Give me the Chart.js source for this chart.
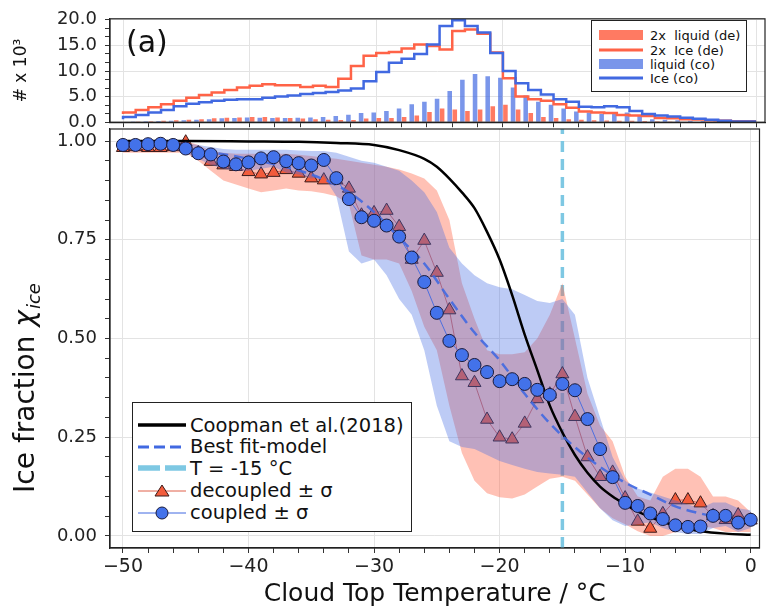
<!DOCTYPE html>
<html>
<head>
<meta charset="utf-8">
<script src="https://cdn.jsdelivr.net/npm/chart.js@4.4.1/dist/chart.umd.min.js"></script>
<style>
  body { margin: 0; background: #fff; font-family: 'DejaVu Sans', sans-serif; }
  #wrap { position: relative; width: 768px; height: 609px; overflow: hidden; }
  canvas { position: absolute; left: 0; top: 0; }
  #tag { position: absolute; left: 126px; top: 24px; font-size: 30px; color: #111; }
  .leg { position: absolute; background: #fff; border: 1.3px solid #222; box-sizing: border-box; color: #111; }
  .row { position: absolute; left: 0; display: flex; align-items: center; white-space: pre; }
  .row svg { display: block; }
</style>
</head>
<body>
<div id="wrap">
  <canvas id="mainChart" width="768" height="609"></canvas>
  <canvas id="topChart" width="768" height="141"></canvas>
  <div id="tag">(a)</div>

  <div class="leg" id="legTop" style="left:591px;top:20px;width:156px;height:72px;font-size:13px;">
    <div class="row" style="top:7px;height:14px;left:7px;">
      <svg width="44" height="12"><rect x="0" y="1" width="44" height="10" fill="rgba(255,99,71,0.85)"/></svg><span style="margin-left:7px">2x  liquid (de)</span>
    </div>
    <div class="row" style="top:22px;height:14px;left:7px;">
      <svg width="44" height="12"><line x1="0" y1="6" x2="44" y2="6" stroke="#ff6347" stroke-width="3"/></svg><span style="margin-left:7px">2x  Ice (de)</span>
    </div>
    <div class="row" style="top:36px;height:14px;left:7px;">
      <svg width="44" height="12"><rect x="0" y="1" width="44" height="10" fill="rgba(65,105,225,0.7)"/></svg><span style="margin-left:7px">liquid (co)</span>
    </div>
    <div class="row" style="top:50px;height:14px;left:7px;">
      <svg width="44" height="12"><line x1="0" y1="6" x2="44" y2="6" stroke="#4169e1" stroke-width="3"/></svg><span style="margin-left:7px">Ice (co)</span>
    </div>
  </div>

  <div class="leg" id="legMain" style="left:132px;top:402px;width:280px;height:130px;font-size:19.5px;">
    <div class="row" style="top:11px;height:22px;left:5px;">
      <svg width="48" height="20"><line x1="0" y1="10" x2="48" y2="10" stroke="#000" stroke-width="3.5"/></svg><span style="margin-left:4px">Coopman et al.(2018)</span>
    </div>
    <div class="row" style="top:32.5px;height:22px;left:5px;">
      <svg width="48" height="20"><line x1="0" y1="10" x2="48" y2="10" stroke="#4169e1" stroke-width="3" stroke-dasharray="11,5"/></svg><span style="margin-left:4px">Best fit-model</span>
    </div>
    <div class="row" style="top:54px;height:22px;left:5px;">
      <svg width="48" height="20"><line x1="0" y1="10" x2="48" y2="10" stroke="#7ec8e3" stroke-width="5.5" stroke-dasharray="22,5"/></svg><span style="margin-left:4px">T = -15 °C</span>
    </div>
    <div class="row" style="top:76.5px;height:22px;left:5px;">
      <svg width="48" height="20"><line x1="0" y1="10" x2="48" y2="10" stroke="#e0604a" stroke-width="1"/><polygon points="24,4 31,15 17,15" fill="#f25c3c" stroke="#3a1a1a" stroke-width="1"/></svg><span style="margin-left:4px">decoupled ± σ</span>
    </div>
    <div class="row" style="top:98.5px;height:22px;left:5px;">
      <svg width="48" height="20"><line x1="0" y1="10" x2="48" y2="10" stroke="#4169e1" stroke-width="1"/><circle cx="24" cy="10" r="6" fill="#4372ea" stroke="#1a1a3a" stroke-width="1"/></svg><span style="margin-left:4px">coupled ± σ</span>
    </div>
  </div>
</div>

<script>
// ---- data ----
var temps = [-50,-49,-48,-47,-46,-45,-44,-43,-42,-41,-40,-39,-38,-37,-36,-35,-34,-33,-32,-31,
             -30,-29,-28,-27,-26,-25,-24,-23,-22,-21,-20,-19,-18,-17,-16,-15,-14,-13,-12,-11,
             -10,-9,-8,-7,-6,-5,-4,-3,-2,-1,0];

// ice fraction, coupled clouds
var coupled = [0.990,0.990,0.992,0.993,0.990,0.981,0.969,0.966,0.948,0.941,
               0.946,0.956,0.959,0.949,0.944,0.938,0.952,0.906,0.853,0.807,
               0.798,0.786,0.758,0.705,0.643,0.565,0.494,0.458,0.433,0.415,
               0.392,0.397,0.385,0.370,0.357,0.385,0.369,0.296,0.220,0.149,
               0.084,0.076,0.057,0.043,0.027,0.023,0.024,0.051,0.051,0.034,0.041];
var coupledLo = [0.980,0.980,0.982,0.983,0.980,0.970,0.955,0.940,0.930,0.925,
                 0.925,0.930,0.935,0.920,0.915,0.905,0.910,0.860,0.720,0.690,
                 0.700,0.660,0.600,0.560,0.470,0.330,0.240,0.225,0.220,0.205,
                 0.190,0.180,0.170,0.162,0.158,0.155,0.150,0.110,0.070,0.040,
                 0.025,0.030,0.035,0.020,0.010,0.005,0.005,0.020,0.025,0.010,0.020];
var coupledHi = [1.000,1.000,1.000,1.000,1.000,0.995,0.990,0.985,0.980,0.978,
                 0.978,0.978,0.978,0.978,0.976,0.975,0.975,0.970,0.960,0.950,
                 0.945,0.935,0.925,0.900,0.870,0.820,0.730,0.690,0.660,0.640,
                 0.630,0.625,0.610,0.595,0.590,0.600,0.560,0.400,0.300,0.200,
                 0.140,0.120,0.110,0.100,0.090,0.080,0.070,0.085,0.085,0.070,0.065];

// ice fraction, decoupled clouds
var decoupled = [0.983,0.985,0.983,0.983,0.985,0.997,0.970,0.948,0.939,0.935,
                 0.922,0.916,0.920,0.927,0.918,0.906,0.901,0.901,0.880,0.812,
                 0.818,0.824,0.783,0.700,0.748,0.667,0.572,0.405,0.388,0.295,
                 0.250,0.245,0.285,0.347,0.359,0.410,0.302,0.200,0.150,0.161,
                 0.096,0.037,0.019,0.056,0.091,0.091,0.083,0.051,0.041,0.053,0.040];
var decoupledLo = [0.970,0.970,0.970,0.970,0.970,0.970,0.950,0.925,0.900,0.890,
                   0.880,0.870,0.875,0.880,0.875,0.873,0.868,0.860,0.840,0.710,
                   0.700,0.700,0.690,0.620,0.530,0.470,0.330,0.210,0.140,0.108,
                   0.098,0.095,0.105,0.125,0.145,0.150,0.140,0.105,0.070,0.045,
                   0.030,0.012,0.000,0.000,0.010,0.020,0.025,0.020,0.010,0.010,0.010];
var decoupledHi = [0.995,0.995,0.995,0.995,0.995,1.000,0.990,0.975,0.970,0.968,
                   0.968,0.968,0.968,0.968,0.965,0.962,0.958,0.955,0.950,0.945,
                   0.940,0.935,0.928,0.918,0.905,0.875,0.800,0.640,0.550,0.470,
                   0.460,0.460,0.465,0.500,0.560,0.640,0.500,0.360,0.280,0.240,
                   0.150,0.100,0.090,0.150,0.170,0.170,0.150,0.100,0.100,0.090,0.060];

// Coopman et al. (2018) curve
var coopT = [-50,-45,-40,-36,-33,-30,-28,-26,-25,-24,-23,-22,-21,-20,-19,-18,-17,-16,
             -15,-14,-13,-12,-11,-10,-9,-8,-7,-6,-5,-4,-2,0];
var coopV = [1.000,1.000,0.999,0.998,0.995,0.990,0.977,0.955,0.935,0.905,0.870,0.830,
             0.770,0.700,0.610,0.510,0.420,0.330,0.262,0.205,0.160,0.125,0.100,0.080,
             0.062,0.048,0.036,0.026,0.018,0.012,0.006,0.003];

// best fit model
var fitT = [-50,-45,-40,-35,-32,-30,-28,-26,-24,-22,-20,-18,-16,-14,-12,-10,-8,-6,-4,-2,0];
var fitV = [0.995,0.980,0.955,0.915,0.870,0.820,0.755,0.690,0.600,0.515,0.445,0.360,
            0.285,0.225,0.175,0.135,0.105,0.075,0.057,0.045,0.035];

var threshT = -15;

// histogram (x 10^3), one value per 1 degree bin starting at temps[i]
var liqDe = [0.10,0.15,0.20,0.30,0.40,0.50,0.60,0.75,0.85,0.90,
             1.00,1.00,0.90,0.80,0.70,0.60,0.50,0.45,0.45,0.70,
             0.80,0.80,1.00,1.30,2.00,2.70,2.50,2.20,2.50,3.10,
             3.40,2.50,1.80,1.00,0.80,0.60,0.50,0.40,0.35,0.30,
             0.30,0.25,0.20,0.15,0.10,0.10,0.08,0.05,0.03,0.02];
var iceDe = [1.6,1.9,2.4,2.9,3.5,4.2,4.8,5.3,5.8,6.3,
             6.8,7.1,7.4,7.2,7.2,6.9,7.1,6.9,8.5,11.0,
             13.0,13.5,13.7,14.4,15.2,14.9,14.2,17.8,18.1,17.3,
             13.6,8.6,5.0,4.5,4.2,3.5,2.8,2.1,1.9,1.8,
             1.4,1.3,1.2,0.8,0.75,0.6,0.55,0.4,0.3,0.2];
var liqCo = [0.10,0.15,0.20,0.25,0.30,0.40,0.50,0.60,0.75,0.80,
             0.90,0.85,0.80,0.80,0.85,0.90,1.00,1.20,1.45,1.80,
             1.90,2.20,2.70,3.50,4.00,4.60,6.10,8.30,9.40,9.00,
             8.70,6.80,5.20,4.00,3.40,2.70,2.10,1.90,1.60,1.60,
             1.90,1.30,0.60,0.50,0.40,0.30,0.25,0.20,0.15,0.10];
var iceCo = [0.6,1.0,1.4,1.9,2.4,3.1,3.6,3.9,4.2,4.4,
             4.5,4.5,4.8,5.0,5.2,5.5,5.7,5.9,6.2,6.6,
             8.0,9.8,11.6,12.4,13.3,15.2,18.8,19.9,18.8,17.5,
             13.5,10.0,7.6,6.3,5.4,4.5,4.0,3.0,2.9,3.1,
             2.9,2.2,1.6,1.3,1.1,0.85,0.65,0.5,0.3,0.15];

// ---- helpers ----
function pts(xs, ys) {
  return ys.map(function (y, i) { return { x: xs[i], y: y }; });
}
function stepPts(xs, ys) {
  var p = pts(xs, ys);
  p.push({ x: xs[ys.length], y: ys[ys.length - 1] });
  return p;
}

Chart.defaults.font.family = "'DejaVu Sans', sans-serif";
Chart.defaults.color = '#222';
Chart.defaults.animation = false;

var xMin = -51.03, xMax = 0.7;
var yMin = -0.0304, yMax = 1.0304;

var frame = {
  id: 'frame',
  afterDraw: function (chart) {
    var a = chart.chartArea, c = chart.ctx;
    c.save();
    c.strokeStyle = '#222';
    c.lineWidth = 1.2;
    c.strokeRect(a.left, a.top, a.right - a.left, a.bottom - a.top);
    c.restore();
  }
};

var yTitle = {
  id: 'yTitle',
  afterDraw: function (chart) {
    var c = chart.ctx;
    c.save();
    c.translate(27, 388);
    c.rotate(-Math.PI / 2);
    c.fillStyle = '#111';
    c.textBaseline = 'middle';
    var f1 = "28px 'DejaVu Sans'", f2 = "italic 28px 'DejaVu Sans'", f3 = "italic 18px 'DejaVu Sans'";
    var t1 = 'Ice fraction ', t2 = '\u03c7', t3 = 'ice';
    c.font = f1; var w1 = c.measureText(t1).width;
    c.font = f2; var w2 = c.measureText(t2).width;
    c.font = f3; var w3 = c.measureText(t3).width;
    var x0 = -(w1 + w2 + w3 + 1) / 2;
    c.font = f1; c.fillText(t1, x0, 0);
    c.font = f2; c.fillText(t2, x0 + w1, 0);
    c.font = f3; c.fillText(t3, x0 + w1 + w2 + 1, 8);
    c.restore();
  }
};

function xTicks(showLabels) {
  return {
    display: showLabels,
    stepSize: 2,
    includeBounds: false,
    autoSkip: false,
    maxRotation: 0,
    padding: 3,
    font: { size: 19 },
    callback: function (v) {
      if (v % 10 !== 0) return '';
      return v < 0 ? '\u2212' + Math.abs(v) : String(v);
    }
  };
}
function majorGrid(step) {
  return function (ctx) {
    if (!ctx.tick) return 'transparent';
    var v = ctx.tick.value / step;
    return Math.abs(v - Math.round(v)) < 1e-6 ? '#e3e3e3' : 'transparent';
  };
}

// ---- main chart ----
new Chart(document.getElementById('mainChart'), {
  type: 'line',
  data: {
    datasets: [
      { label: 'T = -15 °C', data: [{ x: threshT, y: yMin }, { x: threshT, y: yMax }],
        borderColor: '#7ec8e3', borderWidth: 3.5, borderDash: [11, 7], pointRadius: 0, order: 10 },
      { label: 'dec lo', data: pts(temps, decoupledLo), borderWidth: 0, borderColor: 'transparent',
        pointRadius: 0, fill: false, order: 9 },
      { label: 'dec hi', data: pts(temps, decoupledHi), borderWidth: 0, borderColor: 'transparent',
        pointRadius: 0, fill: 1, backgroundColor: 'rgba(255,99,71,0.4)', order: 9 },
      { label: 'decoupled ± σ', data: pts(temps, decoupled), borderColor: 'rgba(215,85,70,0.85)',
        borderWidth: 1, pointStyle: 'triangle', pointRadius: 7.5, pointBackgroundColor: '#f25c3c',
        pointBorderColor: '#3a1a1a', pointBorderWidth: 1, order: 8 },
      { label: 'co lo', data: pts(temps, coupledLo), borderWidth: 0, borderColor: 'transparent',
        pointRadius: 0, fill: false, order: 7 },
      { label: 'co hi', data: pts(temps, coupledHi), borderWidth: 0, borderColor: 'transparent',
        pointRadius: 0, fill: 4, backgroundColor: 'rgba(65,105,225,0.35)', order: 7 },
      { label: 'Coopman et al.(2018)', data: pts(coopT, coopV), borderColor: '#000', borderWidth: 2.5,
        pointRadius: 0, cubicInterpolationMode: 'monotone', order: 5 },
      { label: 'Best fit-model', data: pts(fitT, fitV), borderColor: 'rgba(65,105,225,0.9)',
        borderWidth: 2.5, borderDash: [10, 6], pointRadius: 0, cubicInterpolationMode: 'monotone', order: 4 },
      { label: 'coupled ± σ', data: pts(temps, coupled), borderColor: 'rgba(65,105,225,0.9)',
        borderWidth: 1, pointStyle: 'circle', pointRadius: 6.5, pointBackgroundColor: '#4372ea',
        pointBorderColor: '#1a1a3a', pointBorderWidth: 1, order: 3 }
    ]
  },
  options: {
    responsive: false,
    devicePixelRatio: 1,
    events: [],
    layout: { padding: { top: 129, right: 3, left: 0, bottom: 0 } },
    plugins: { legend: { display: false }, tooltip: { enabled: false } },
    scales: {
      x: {
        type: 'linear', min: xMin, max: xMax, offset: false,
        ticks: xTicks(true),
        grid: { color: majorGrid(10), tickColor: '#333', tickLength: 5 },
        border: { display: true, color: '#222', width: 1.2 },
        title: { display: true, text: 'Cloud Top Temperature / °C', font: { size: 25 }, color: '#111',
                 padding: { top: 0, bottom: 0 } },
        afterFit: function (s) { s.height = 61; }
      },
      y: {
        type: 'linear', min: yMin, max: yMax,
        ticks: {
          stepSize: 0.05, includeBounds: false, autoSkip: false, padding: 8, font: { size: 18 },
          callback: function (v) {
            var q = v * 4;
            return Math.abs(q - Math.round(q)) < 1e-6 ? v.toFixed(2) : '';
          }
        },
        grid: { color: majorGrid(0.25), tickColor: '#333', tickLength: 5 },
        border: { display: true, color: '#222', width: 1.2 },
        afterFit: function (s) { s.width = 110; }
      }
    }
  },
  plugins: [frame, yTitle]
});

// ---- top histogram ----
new Chart(document.getElementById('topChart'), {
  type: 'bar',
  data: {
    datasets: [
      { type: 'line', label: '2x  Ice (de)', data: stepPts(temps, iceDe), stepped: 'after',
        borderColor: '#ff6347', borderWidth: 2.5, pointRadius: 0, order: 2 },
      { type: 'line', label: 'Ice (co)', data: stepPts(temps, iceCo), stepped: 'after',
        borderColor: '#4169e1', borderWidth: 2.5, pointRadius: 0, order: 1 },
      { type: 'bar', label: '2x  liquid (de)', data: pts(temps, liqDe),
        backgroundColor: 'rgba(255,99,71,0.85)', order: 4 },
      { type: 'bar', label: 'liquid (co)', data: pts(temps, liqCo),
        backgroundColor: 'rgba(65,105,225,0.7)', order: 3 }
    ]
  },
  options: {
    responsive: false,
    devicePixelRatio: 1,
    events: [],
    layout: { padding: { top: 16, right: 3, left: 0, bottom: 0 } },
    plugins: { legend: { display: false }, tooltip: { enabled: false } },
    scales: {
      x: {
        type: 'linear', min: xMin, max: xMax, offset: false,
        ticks: xTicks(false),
        grid: { color: majorGrid(10), tickColor: '#333', tickLength: 5, offset: false },
        border: { display: true, color: '#222', width: 1.2 },
        afterFit: function (s) { s.height = 5; }
      },
      y: {
        type: 'linear', min: 0, max: 20.2,
        ticks: {
          stepSize: 5 / 3, includeBounds: false, autoSkip: false, padding: 8, font: { size: 18 },
          callback: function (v) {
            var q = v / 5;
            return Math.abs(q - Math.round(q)) < 1e-6 ? (Math.round(q) * 5).toFixed(1) : '';
          }
        },
        grid: { color: majorGrid(5), tickColor: '#333', tickLength: 5 },
        border: { display: true, color: '#222', width: 1.2 },
        title: { display: true, text: '# x 10\u00b3', font: { size: 17 }, color: '#111',
                 padding: { top: 11, bottom: 0 } },
        afterFit: function (s) { s.width = 110; }
      }
    }
  },
  plugins: [frame]
});
</script>
</body>
</html>
